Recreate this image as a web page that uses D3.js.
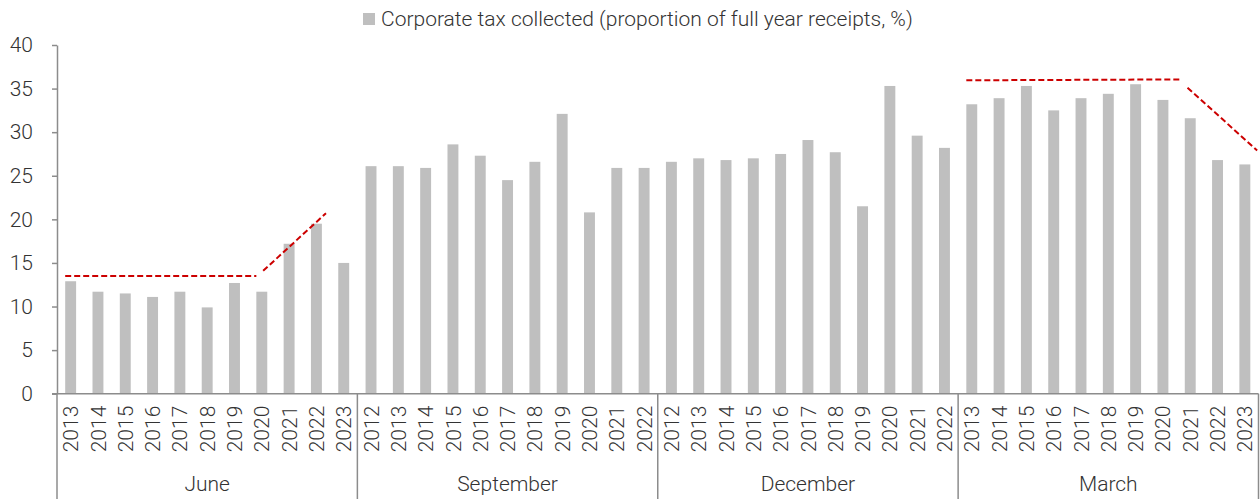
<!DOCTYPE html>
<html>
<head>
<meta charset="utf-8">
<script src="https://cdn.jsdelivr.net/npm/d3@7"></script>
<style>
  body { margin: 0; background: #fff; }
  svg { display: block; font-family: Roboto, "Noto Sans", sans-serif; font-weight: 300; }
</style>
</head>
<body>
<div id="chart-container"></div>
<script>
// Data
const months = ['June', 'September', 'December', 'March']
const juneYears = ['2013', '2014', '2015', '2016', '2017', '2018', '2019', '2020', '2021', '2022', '2023']
const septemberYears = ['2012', '2013', '2014', '2015', '2016', '2017', '2018', '2019', '2020', '2021', '2022']
const decemberYears = ['2012', '2013', '2014', '2015', '2016', '2017', '2018', '2019', '2020', '2021', '2022']
const marchYears = ['2013', '2014', '2015', '2016', '2017', '2018', '2019', '2020', '2021', '2022', '2023']
const juneValues = [12.9, 11.7, 11.5, 11.1, 11.7, 9.9, 12.7, 11.7, 17.2, 19.5, 15.0]
const septemberValues = [26.1, 26.1, 25.9, 28.6, 27.3, 24.5, 26.6, 32.1, 20.8, 25.9, 25.9]
const decemberValues = [26.6, 27.0, 26.8, 27.0, 27.5, 29.1, 27.7, 21.5, 35.3, 29.6, 28.2]
const marchValues = [33.2, 33.9, 35.3, 32.5, 33.9, 34.4, 35.5, 33.7, 31.6, 26.8, 26.3]
const yTicks = [0, 5, 10, 15, 20, 25, 30, 35, 40]
const seriesName = 'Corporate tax collected (proportion of full year receipts, %)'
// Dashed trend annotations, as [bar position, value] pairs (bar position counts across all 44 bars)
const trendLines = [
    [[-0.2, 13.5], [6.8, 13.5]],
    [[7.05, 14.1], [9.35, 20.7]],
    [[32.8, 35.95], [40.6, 36.05]],
    [[40.9, 35.1], [43.45, 27.9]]
]

const yearsByMonth = [juneYears, septemberYears, decemberYears, marchYears]
const valuesByMonth = [juneValues, septemberValues, decemberValues, marchValues]
const rows = []
months.forEach((m, gi) => {
    yearsByMonth[gi].forEach((yr, i) => {
        rows.push({ key: m + '-' + yr, month: m, year: yr, value: valuesByMonth[gi][i], group: gi })
    })
})

const width = 1260
const height = 499
const plotLeft = 57
const plotRight = 1258.5
const plotTop = 45
const plotBottom = 393.7
const barColor = '#bfbfbf'
const axisColor = '#8c8c8c'
const textColor = '#333'
const fontSize = 21

const svg = d3.select('#chart-container')
    .append('svg')
    .attr('width', width)
    .attr('height', height)
    .attr('viewBox', '0 0 ' + width + ' ' + height)

const x = d3.scaleBand()
    .domain(rows.map(d => d.key))
    .range([plotLeft, plotRight])
    .paddingInner(0.6)
    .paddingOuter(0.3)

const y = d3.scaleLinear()
    .domain([0, 40])
    .range([plotBottom, plotTop])

// position along the bars (index -> bar centre)
const xPos = d3.scaleLinear()
    .domain([0, rows.length - 1])
    .range([x(rows[0].key) + x.bandwidth() / 2, x(rows[rows.length - 1].key) + x.bandwidth() / 2])

// Bars
svg.append('g')
    .selectAll('rect')
    .data(rows)
    .enter()
    .append('rect')
    .attr('x', d => x(d.key))
    .attr('y', d => y(d.value))
    .attr('width', x.bandwidth())
    .attr('height', d => y(0) - y(d.value))
    .attr('fill', barColor)

// Y axis
const yAxis = d3.axisLeft(y)
    .tickValues(yTicks)
    .tickSize(5)
    .tickPadding(19)
    .tickSizeOuter(0)
const yG = svg.append('g')
    .attr('transform', 'translate(' + plotLeft + ',0)')
    .call(yAxis)
yG.select('.domain').attr('stroke', axisColor).attr('stroke-width', 1.5)
yG.selectAll('.tick line').attr('stroke', axisColor).attr('stroke-width', 1.5)
yG.selectAll('.tick text')
    .attr('fill', textColor)
    .attr('font-size', fontSize)
    .attr('font-family', 'Roboto, sans-serif')
    .attr('font-weight', 300)

// X axis baseline
svg.append('line')
    .attr('x1', plotLeft - 5).attr('x2', plotRight)
    .attr('y1', y(0)).attr('y2', y(0))
    .attr('stroke', axisColor)
    .attr('stroke-width', 1.5)

// Year labels
svg.append('g')
    .selectAll('text')
    .data(rows)
    .enter()
    .append('text')
    .attr('transform', d => 'translate(' + (x(d.key) + x.bandwidth() / 2) + ',' + (y(0) + 12) + ') rotate(-90)')
    .attr('text-anchor', 'end')
    .attr('dy', '0.36em')
    .attr('font-size', fontSize)
    .attr('fill', textColor)
    .text(d => d.year)

// Group separators and month labels
const step = x.step()
const groupEdges = [0, 11, 22, 33, 44].map(i => plotLeft + i * step)
svg.append('g')
    .selectAll('line')
    .data(groupEdges)
    .enter()
    .append('line')
    .attr('x1', d => d).attr('x2', d => d)
    .attr('y1', y(0)).attr('y2', height)
    .attr('stroke', axisColor)
    .attr('stroke-width', 1.5)

svg.append('g')
    .selectAll('text')
    .data(months)
    .enter()
    .append('text')
    .attr('x', (d, i) => (groupEdges[i] + groupEdges[i + 1]) / 2)
    .attr('y', 491)
    .attr('text-anchor', 'middle')
    .attr('font-size', fontSize)
    .attr('fill', textColor)
    .text(d => d)

// Trend lines
const line = d3.line()
    .x(d => xPos(d[0]))
    .y(d => y(d[1]))
svg.append('g')
    .selectAll('path')
    .data(trendLines)
    .enter()
    .append('path')
    .attr('d', line)
    .attr('fill', 'none')
    .attr('stroke', '#cc0000')
    .attr('stroke-width', 2)
    .attr('stroke-dasharray', '6,3')

// Legend
const legend = svg.append('g')
    .attr('transform', 'translate(363,0)')
legend.append('rect')
    .attr('x', 0)
    .attr('y', 13)
    .attr('width', 12)
    .attr('height', 12)
    .attr('fill', barColor)
legend.append('text')
    .attr('x', 18)
    .attr('y', 26)
    .attr('font-size', fontSize)
    .attr('fill', textColor)
    .text(seriesName)
</script>
</body>
</html>
